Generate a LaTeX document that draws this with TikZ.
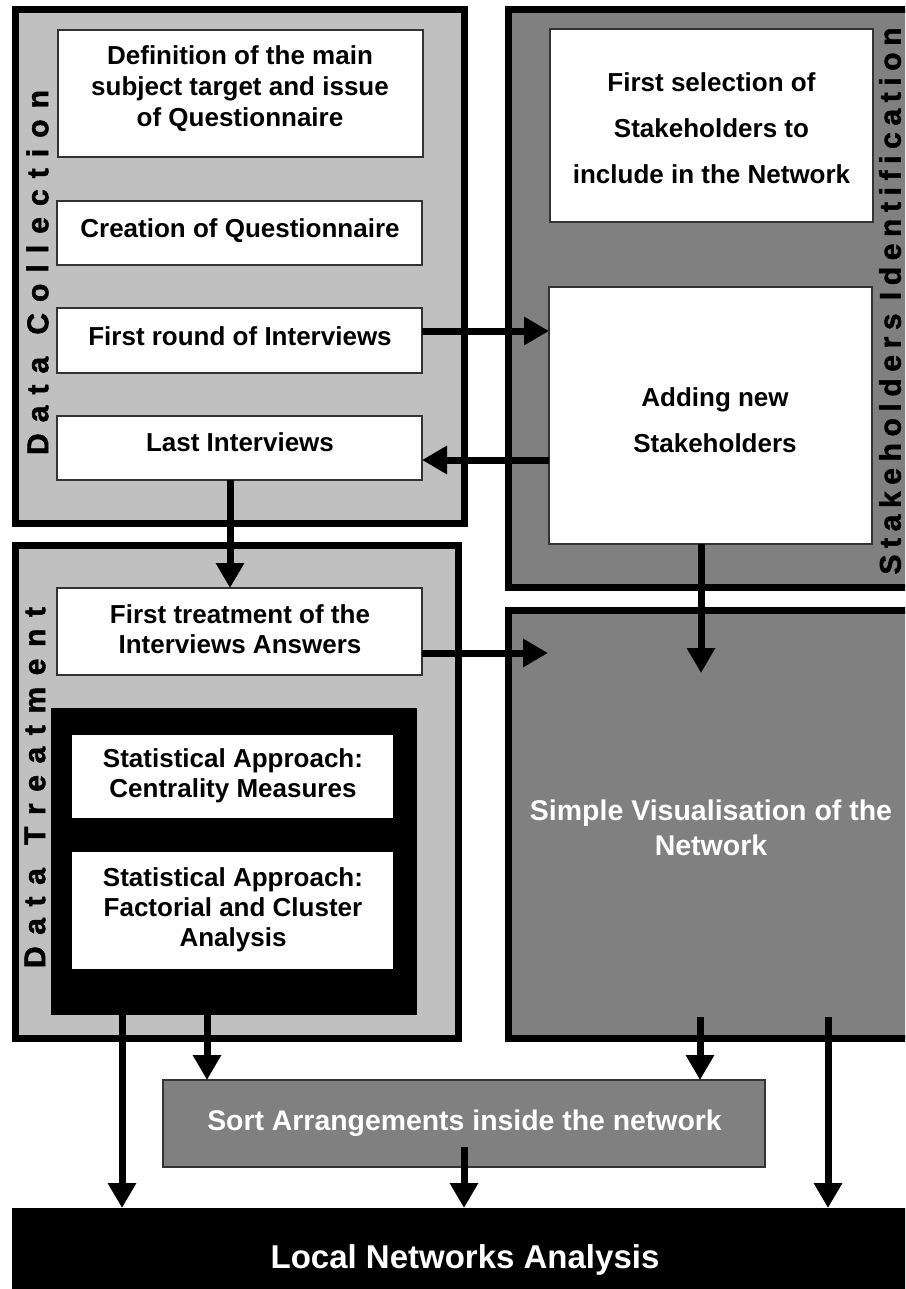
\documentclass[tikz,border=0pt]{standalone}
\usepackage{fontspec}
\setmainfont{Liberation Sans}
\newfontfamily\vlabelfont[BoldFeatures={FakeBold=1.6}]{Liberation Sans}
\usetikzlibrary{arrows.meta,calc}
\definecolor{lgray}{HTML}{C0C0C0}
\definecolor{dgray}{HTML}{808080}
\definecolor{edgegray}{HTML}{333333}
\begin{document}
\begin{tikzpicture}[x=1pt,y=-1pt,
  container/.style={draw=black,line width=7pt,rectangle,inner sep=0pt,outer sep=0pt,anchor=north west},
  wbox/.style={draw=edgegray,line width=1.3pt,fill=white,rectangle,inner sep=0pt,outer sep=0pt,anchor=north west},
  fbox/.style={rectangle,inner sep=0pt,outer sep=0pt,anchor=north west},
  txt/.style={font=\bfseries\fontsize{26pt}{31pt}\selectfont,align=center,inner sep=0pt,text=black},
  wtxt/.style={font=\bfseries\fontsize{28.5pt}{35pt}\selectfont,align=center,inner sep=0pt,text=white},
  arr/.style={line width=7pt,-{Triangle[length=25pt,width=27pt]}},
  vlabel/.style={rotate=90,inner sep=0pt,font=\vlabelfont\bfseries\fontsize{30pt}{30pt}\selectfont}
]
\useasboundingbox (0,0) rectangle (905,1289);
\clip (0,0) rectangle (905,1289);

% containers
\node[container,fill=lgray,minimum width=449pt,minimum height=514pt] (dc) at (15.5,9.5) {};
\node[container,fill=dgray,minimum width=420pt,minimum height=578pt] (si) at (508.5,9.5) {};
\node[container,fill=lgray,minimum width=443pt,minimum height=493pt] (dt) at (15.5,545.5) {};
\node[container,fill=dgray,minimum width=420pt,minimum height=428pt] (sv) at (508.5,610.5) {};

% vertical labels
\node[vlabel] (dcL) at (37.5,272.5) {\makebox[365pt][s]{D\hfil a\hfil t\hfil a\hfil\hfil C\hfil o\hfil l\hfil l\hfil e\hfil c\hfil t\hfil i\hfil o\hfil n}};
\node[vlabel] (dtL) at (35,787.5) {\makebox[361pt][s]{D\hfil a\hfil t\hfil a\hfil\hfil T\hfil r\hfil e\hfil a\hfil t\hfil m\hfil e\hfil n\hfil t}};
\node[vlabel] (siL) at (890,301) {\makebox[547pt][s]{S\hfil t\hfil a\hfil k\hfil e\hfil h\hfil o\hfil l\hfil d\hfil e\hfil r\hfil s\hfil\hfil I\hfil d\hfil e\hfil n\hfil t\hfil i\hfil f\hfil i\hfil c\hfil a\hfil t\hfil i\hfil o\hfil n}};

% Data collection boxes
\node[wbox,minimum width=365pt,minimum height=127pt] (def) at (58,30) {};
\node[wbox,minimum width=365pt,minimum height=64pt] (creat) at (57,201) {};
\node[wbox,minimum width=365pt,minimum height=65pt] (first) at (57,308) {};
\node[wbox,minimum width=365pt,minimum height=64pt] (last) at (57,416) {};
\node[txt] (defT) at (240,89) {Definition of the main\\subject target and issue\\of Questionnaire};
\node[txt] (creatT) at (240,230.5) {Creation of Questionnaire};
\node[txt] (firstT) at (240,336) {First round of Interviews};
\node[txt] (lastT) at (240,442) {Last Interviews};

% Stakeholders boxes
\node[wbox,minimum width=323pt,minimum height=193pt] (sel) at (550,29) {};
\node[wbox,minimum width=323pt,minimum height=257pt] (add) at (549,287) {};
\node[txt,font=\bfseries\fontsize{26pt}{46pt}\selectfont] (selT) at (711.5,128) {First selection of\\Stakeholders to\\include in the Network};
\node[txt,font=\bfseries\fontsize{26pt}{46pt}\selectfont] (addT) at (715,420) {Adding new\\Stakeholders};

% Data treatment boxes
\node[wbox,minimum width=365pt,minimum height=87pt] (ft) at (57,588) {};
\node[fbox,fill=black,minimum width=366pt,minimum height=307pt] (black) at (51,708) {};
\node[fbox,fill=white,minimum width=321pt,minimum height=83pt] (stat1) at (72,735) {};
\node[fbox,fill=white,minimum width=321pt,minimum height=117pt] (stat2) at (72,852) {};
\node[txt,font=\bfseries\fontsize{26pt}{30pt}\selectfont] (ftT) at (240,629) {First treatment of the\\Interviews Answers};
\node[txt,font=\bfseries\fontsize{26pt}{30pt}\selectfont] (stat1T) at (233,775.5) {Statistical Approach:\\Centrality Measures};
\node[txt,font=\bfseries\fontsize{26pt}{30pt}\selectfont] (stat2T) at (233,910) {Statistical Approach:\\Factorial and Cluster\\Analysis};

% Simple visualisation text
\node[wtxt] (svT) at (711,828) {Simple Visualisation of the\\Network};

% Sort and Local
\node[fbox,draw=edgegray,line width=1.3pt,fill=dgray,minimum width=602pt,minimum height=87pt] (sort) at (163,1080) {};
\node[wtxt,font=\bfseries\fontsize{28.4pt}{34pt}\selectfont] (sortT) at (464.5,1123) {Sort Arrangements inside the network};
\node[fbox,fill=black,minimum width=920pt,minimum height=100pt] (local) at (12,1208) {};
\node[wtxt,font=\bfseries\fontsize{33pt}{38pt}\selectfont] (localT) at (465,1260) {Local Networks Analysis};

% helper coordinates
\coordinate (c122) at (122,0);
\coordinate (c207) at (207,0);
\coordinate (svi1) at (701,673);
\coordinate (svi2) at (548,653);
\coordinate (svo1) at (700,1017);
\coordinate (svo2) at (828,1017);
\coordinate (sorto) at (464,1147);
\coordinate (a1s) at ([yshift=9.5pt]first.east);
\coordinate (a2e) at ([yshift=-12pt]last.east);
\coordinate (a3s) at ([xshift=-9.5pt]last.south);

% connectors
\draw[arr] (a1s) -- (a1s -| add.west);
\draw[arr] (a2e -| add.west) -- (a2e);
\draw[arr] (a3s) -- (a3s |- ft.north);
\draw[arr] ([xshift=-9.5pt]add.south) -- (svi1);
\draw[arr] ([yshift=-21.5pt]ft.east) -- (svi2);
\draw[arr] (black.south -| c122) -- (local.north -| c122);
\draw[arr] (black.south -| c207) -- (sort.north -| c207);
\draw[arr] (svo1) -- (sort.north -| svo1);
\draw[arr] (svo2) -- (local.north -| svo2);
\draw[arr] (sorto) -- (local.north -| sorto);
\end{tikzpicture}
\end{document}
